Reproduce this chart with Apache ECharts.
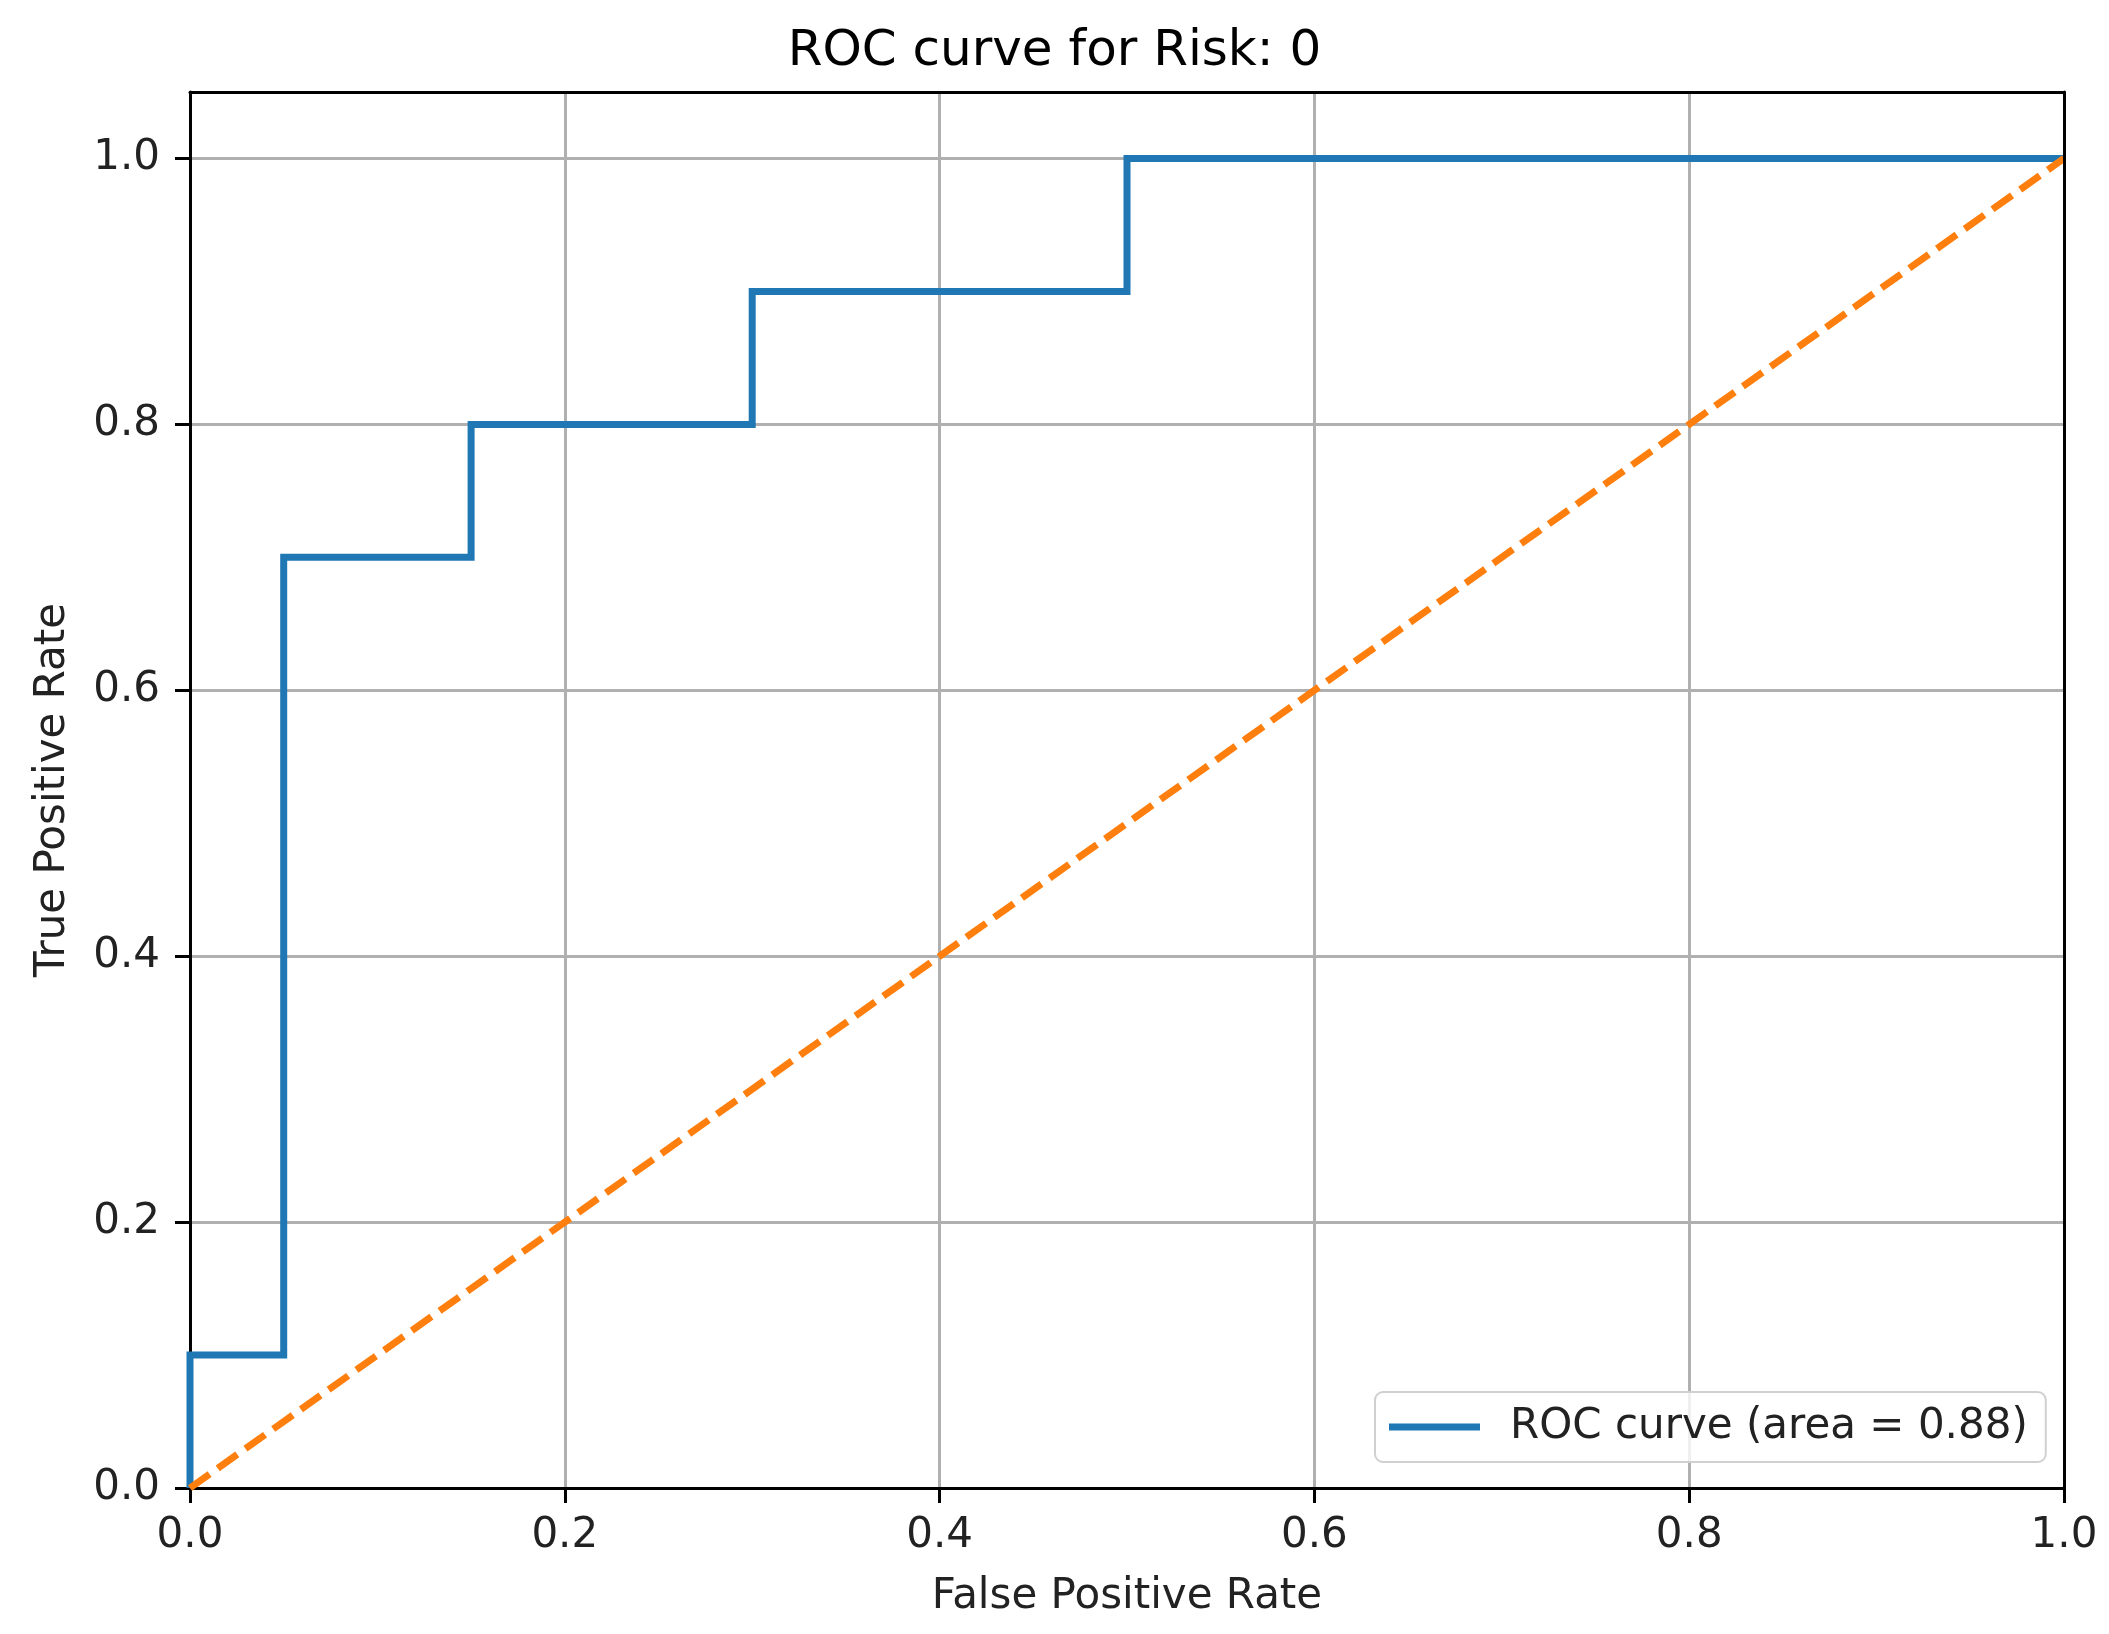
<!DOCTYPE html>
<html>
<head>
<meta charset="utf-8">
<script src="https://cdn.jsdelivr.net/npm/echarts@6/dist/echarts.min.js"></script>
<style>
html,body{margin:0;padding:0;background:#fff;}
#chart{width:2109px;height:1634px;}
</style>
</head>
<body>
<div id="chart"></div>
<script>
// ROC data
var fpr = [0, 0, 0.05, 0.05, 0.15, 0.15, 0.3, 0.3, 0.5, 0.5, 1.0];
var tpr = [0, 0.1, 0.1, 0.7, 0.7, 0.8, 0.8, 0.9, 0.9, 1.0, 1.0];
var diagX = [0, 1];
var diagY = [0, 1];
var rocName = 'ROC curve (area = 0.88)';
var titleText = 'ROC curve for Risk: 0';
var xTicks = [0, 0.2, 0.4, 0.6, 0.8, 1.0];
var yTicks = [0, 0.2, 0.4, 0.6, 0.8, 1.0];

var rocData = fpr.map(function (x, i) { return [x, tpr[i]]; });
var diagData = diagX.map(function (x, i) { return [x, diagY[i]]; });

function tickFmt(list) {
  return function (v) {
    for (var i = 0; i < list.length; i++) {
      if (Math.abs(list[i] - v) < 1e-6) return list[i].toFixed(1);
    }
    return '';
  };
}

var FONT = 'DejaVu Sans';
var FS = 42;
var spine = { show: true, onZero: false, lineStyle: { color: '#000', width: 3 } };
var chart = echarts.init(document.getElementById('chart'));
chart.setOption({
  backgroundColor: '#ffffff',
  animation: false,
  title: {
    text: titleText,
    left: 'center',
    top: 22,
    textStyle: { fontFamily: FONT, fontSize: 50, fontWeight: 'normal', color: '#000' }
  },
  grid: {
    left: 190, right: 45, top: 92, bottom: 146,
    show: false
  },
  legend: {
    left: 1375, top: 1392,
    padding: [11, 18, 11, 14],
    itemWidth: 91, itemHeight: 7,
    icon: 'rect',
    borderColor: '#d0d0d0', borderWidth: 2, borderRadius: 8,
    backgroundColor: 'rgba(255,255,255,0.8)',
    textStyle: { fontFamily: FONT, fontSize: FS, color: '#222', padding: [0, 0, 0, 25], lineHeight: 48 },
    data: [{ name: rocName }],
    z: 20
  },
  xAxis: [{
    type: 'value', min: 0, max: 1, interval: 0.2,
    name: 'False Positive Rate', nameLocation: 'middle', nameGap: 88,
    nameTextStyle: { fontFamily: FONT, fontSize: FS, color: '#222' },
    axisLine: spine,
    axisTick: { show: true, inside: false, length: 15, lineStyle: { color: '#000', width: 3 } },
    axisLabel: { formatter: tickFmt(xTicks), fontFamily: FONT, fontSize: FS, color: '#222', margin: 27 },
    splitLine: { show: true, showMinLine: false, showMaxLine: false, lineStyle: { color: '#b0b0b0', width: 3 } },
    z: 0
  }, {
    type: 'value', min: 0, max: 1, position: 'top',
    axisLine: spine, axisTick: { show: false }, axisLabel: { show: false }, splitLine: { show: false },
    z: 10
  }],
  yAxis: [{
    type: 'value', min: 0, max: 1.05, interval: 0.2,
    name: 'True Positive Rate', nameLocation: 'middle', nameGap: 116,
    nameTextStyle: { fontFamily: FONT, fontSize: FS, color: '#222' },
    axisLine: spine,
    axisTick: { show: true, inside: false, length: 15, lineStyle: { color: '#000', width: 3 } },
    axisLabel: { formatter: tickFmt(yTicks), showMaxLabel: false, fontFamily: FONT, fontSize: FS, color: '#222', margin: 30 },
    splitLine: { show: true, showMinLine: false, showMaxLine: false, lineStyle: { color: '#b0b0b0', width: 3 } },
    z: 0
  }, {
    type: 'value', min: 0, max: 1.05, position: 'right',
    axisLine: spine, axisTick: { show: false }, axisLabel: { show: false }, splitLine: { show: false },
    z: 10
  }],
  series: [
    {
      name: rocName, type: 'line', data: rocData,
      xAxisIndex: 0, yAxisIndex: 0,
      symbol: 'none', showSymbol: false,
      lineStyle: { color: '#1f77b4', width: 7, join: 'miter', cap: 'butt' },
      itemStyle: { color: '#1f77b4' },
      z: 3
    },
    {
      name: 'diag', type: 'line', data: diagData,
      xAxisIndex: 0, yAxisIndex: 0,
      symbol: 'none', showSymbol: false,
      lineStyle: { color: '#ff7f0e', width: 7, type: [24, 10], cap: 'butt' },
      itemStyle: { color: '#ff7f0e' },
      z: 4
    }
  ]
});
</script>
</body>
</html>
